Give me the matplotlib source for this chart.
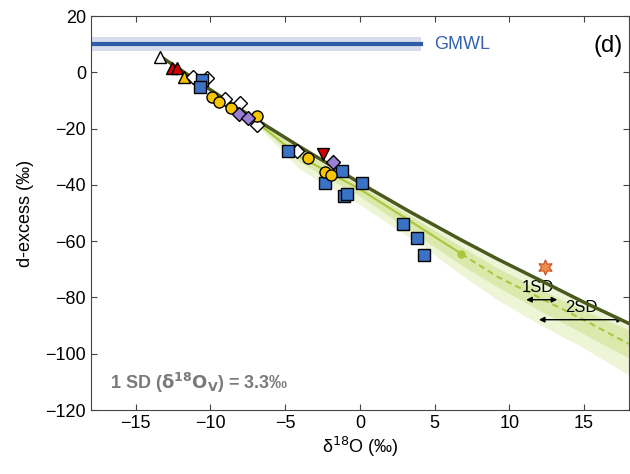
import numpy as np
import matplotlib.pyplot as plt

plt.rcParams['font.family'] = ['Liberation Sans', 'DejaVu Sans']

# GMWL reference
gmwl_d = 10.0
gmwl_band = (7.5, 12.5)
gmwl_xmax = 4.1

# model curve (dark line)
model_x = [-13.3, -10.0, -7.2, -4.0, 0.0, 3.3, 6.8, 9.2, 12.3, 15.0, 18.0]
model_d = [5.5, -6.2, -15.9, -26.5, -39.3, -49.4, -59.6, -66.3, -74.5, -81.7, -89.2]

# uncertainty bands (1SD / 2SD) around the central estimate
band_x = [-7.2, -4.0, 0.0, 4.0, 6.8, 9.2, 12.0, 15.0, 18.0]
outer_hi = [-15.9, -26.5, -39.3, -51.4, -59.6, -66.3, -73.8, -81.7, -89.2]
inner_hi = [-16.2, -27.5, -40.3, -53.0, -62.0, -69.5, -77.0, -84.5, -91.5]
center = [-16.5, -30.0, -41.5, -55.0, -64.5, -72.6, -80.0, -88.0, -96.5]
inner_lo = [-16.8, -32.0, -44.0, -58.5, -68.5, -76.2, -84.5, -93.0, -101.5]
outer_lo = [-17.2, -34.5, -47.0, -61.0, -72.0, -80.8, -89.5, -98.0, -107.5]
solid_end = 6.8

# observations
sq_x = [-10.55, -10.7, -4.8, -1.2, -2.3, -1.06, -0.86, 0.13, 2.9, 3.85, 4.3]
sq_d = [-2.7, -5.2, -27.9, -35.0, -39.2, -43.9, -43.2, -39.2, -53.8, -58.8, -64.8]
circ_x = [-9.9, -9.4, -8.6, -6.9, -3.45, -2.3, -1.9]
circ_d = [-8.7, -10.6, -12.6, -15.4, -30.4, -35.3, -36.4]
wdia_x = [-11.2, -10.2, -9.0, -8.0, -6.9, -4.2]
wdia_d = [-1.6, -2.0, -9.4, -10.8, -18.7, -27.9]
pdia_x = [-8.1, -7.5, -1.8]
pdia_d = [-14.8, -16.2, -32.0]
wtri_x = [-13.35]
wtri_d = [5.5]
rtri_x = [-12.6, -12.25]
rtri_d = [1.6, 1.6]
ytri_x = [-11.8]
ytri_d = [-1.6]
rdown_x = [-2.45]
rdown_d = [-29.0]
star_x = [12.4]
star_d = [-69.1]


def main():
    fig = plt.figure(figsize=(6.3, 4.74), dpi=100)
    ax = fig.add_axes([0.1444, 0.135, 0.8536, 0.831])

    ax.axhspan(gmwl_band[0], gmwl_band[1], xmax=(gmwl_xmax + 18) / 36,
               color='#d5ddec', lw=0, zorder=1)
    ax.plot([-18, gmwl_xmax], [gmwl_d, gmwl_d], color='#2f5ca8', lw=3, zorder=2)
    ax.text(5.0, gmwl_d, 'GMWL', color='#3561ad', fontsize=13, va='center')
    ax.text(17.6, 9.5, '(d)', fontsize=17, ha='right', va='center')

    ax.fill_between(band_x, outer_lo, outer_hi, color='#eef4d6', lw=0, zorder=2)
    ax.fill_between(band_x, inner_lo, inner_hi, color='#dbe9ad', lw=0, zorder=2)
    bx = np.array(band_x)
    bc = np.array(center)
    m = bx <= solid_end
    ax.plot(bx[m], bc[m], color='#a9c83c', lw=1.5, zorder=3)
    ax.plot(bx[bx >= solid_end], bc[bx >= solid_end], color='#a9c83c', lw=1.5,
            ls=(0, (3, 2)), zorder=3)
    ax.plot([solid_end], [bc[m][-1]], 'o', color='#a9c83c', ms=5, zorder=3)

    ax.plot(model_x, model_d, color='#4b5a1c', lw=2.5, zorder=4)

    kw = dict(ls='none', mec='black', mew=1, zorder=5)
    ax.plot(wtri_x, wtri_d, '^', mfc='white', ms=8, **kw)
    ax.plot(rtri_x, rtri_d, '^', mfc='#d40000', ms=8, **kw)
    ax.plot(ytri_x, ytri_d, '^', mfc='#f5c000', ms=8, **kw)
    ax.plot(wdia_x, wdia_d, 'D', mfc='white', ms=7.5, **kw)
    ax.plot(sq_x, sq_d, 's', mfc='#3a72c6', ms=8, **kw)
    ax.plot(circ_x, circ_d, 'o', mfc='#f7c600', ms=8, **kw)
    ax.plot(pdia_x, pdia_d, 'D', mfc='#9b7fd4', ms=7.5, **kw)
    ax.plot(rdown_x, rdown_d, 'v', mfc='#d40000', ms=8.5, **kw)
    ax.plot(star_x, star_d, marker=(6, 1, 0), ls='none', mfc='#f28a4a',
            mec='#c05020', mew=0.8, ms=11, zorder=5)

    arr = dict(arrowstyle='<|-|>', color='black', lw=1, mutation_scale=8)
    ax.annotate('', xy=(10.95, -80.8), xytext=(13.4, -80.8), arrowprops=arr)
    ax.text(11.9, -79.3, '1SD', ha='center', va='bottom', fontsize=12)
    ax.annotate('', xy=(11.8, -87.9), xytext=(17.8, -87.9), arrowprops=arr)
    ax.text(14.8, -86.4, '2SD', ha='center', va='bottom', fontsize=12)

    ax.text(-16.7, -110.3, r'1 SD ($\mathbf{\delta^{18}O_V}$) = 3.3‰', color='#7a7a7a',
            fontsize=13, fontweight='bold', va='center')

    ax.set_xlim(-18, 18)
    ax.set_ylim(-120, 20)
    ax.set_xticks(np.arange(-15, 16, 5))
    ax.set_yticks(np.arange(-120, 21, 20))
    ax.tick_params(direction='in', top=True, right=True, labelsize=13,
                   color='#444444', length=4)
    for s in ax.spines.values():
        s.set_color('#444444')
    ax.set_xlabel('δ$^{18}$O (‰)', fontsize=13, labelpad=2)
    ax.set_ylabel('d-excess (‰)', fontsize=13, labelpad=8)

    fig.savefig('out.png', dpi=100)


if __name__ == "__main__":
    main()
